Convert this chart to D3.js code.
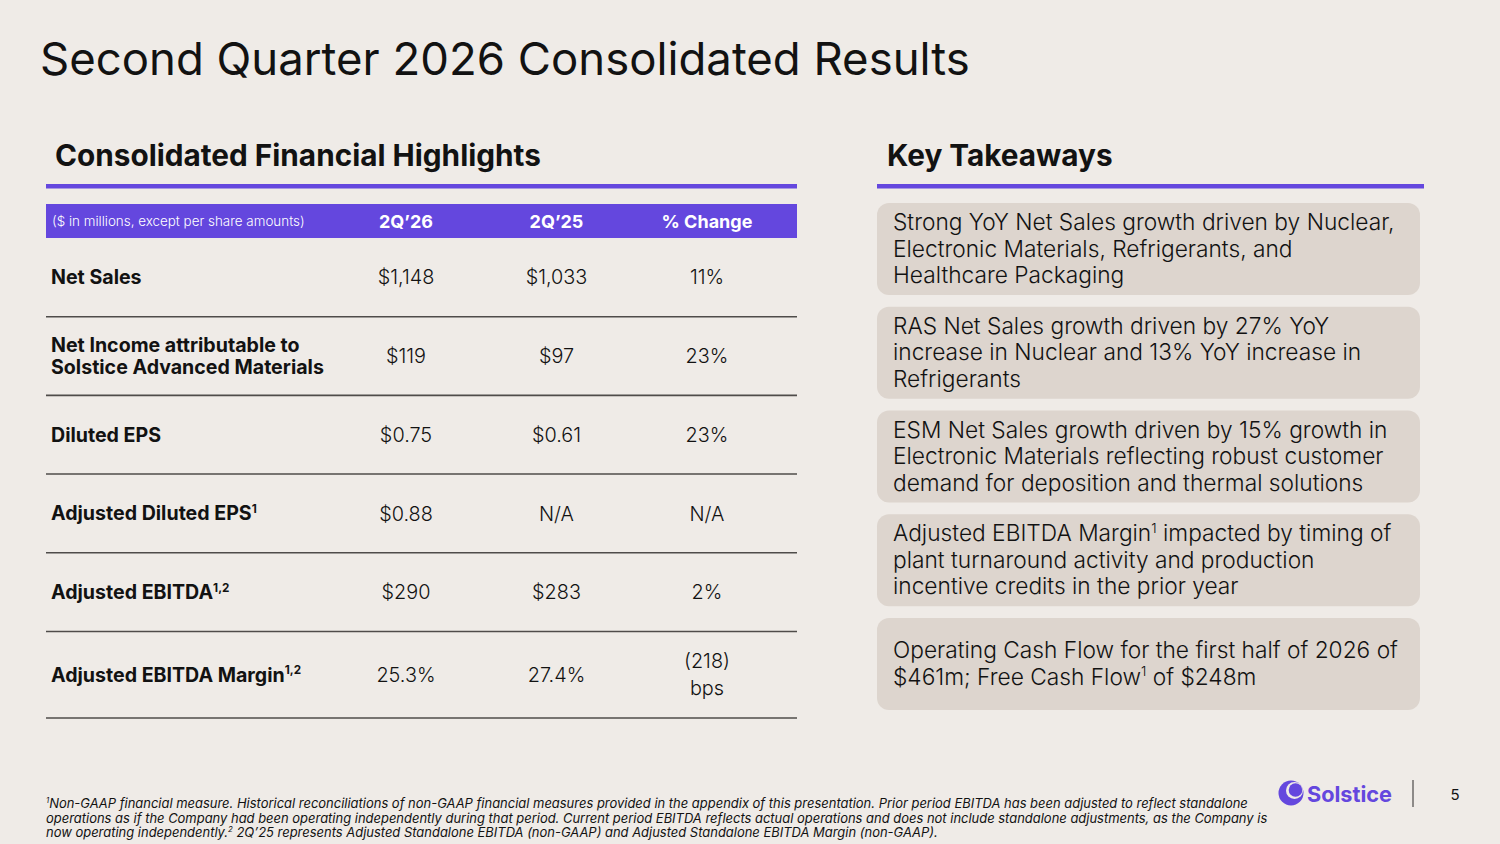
<!DOCTYPE html>
<html lang="en">
<head>
<meta charset="UTF-8">
<title>Second Quarter 2026 Consolidated Results</title>
<script src="https://d3js.org/d3.v7.min.js"></script>
<style>
  body { margin: 0; background: #efebe7; }
  svg { display: block; }
</style>
</head>
<body>
<svg width="1500" height="844"></svg>
<script>
// ---- data ----
const title = "Second Quarter 2026 Consolidated Results";
const leftHeading = "Consolidated Financial Highlights";
const rightHeading = "Key Takeaways";
const unitNote = "($ in millions, except per share amounts)";
const columns = ["2Q’26", "2Q’25", "% Change"];
const rowLabels = [
  ["Net Sales"],
  ["Net Income attributable to", "Solstice Advanced Materials"],
  ["Diluted EPS"],
  ["Adjusted Diluted EPS^1"],
  ["Adjusted EBITDA^1,2"],
  ["Adjusted EBITDA Margin^1,2"]
];
const q2_26 = [["$1,148"], ["$119"], ["$0.75"], ["$0.88"], ["$290"], ["25.3%"]];
const q2_25 = [["$1,033"], ["$97"], ["$0.61"], ["N/A"], ["$283"], ["27.4%"]];
const pctChange = [["11%"], ["23%"], ["23%"], ["N/A"], ["2%"], ["(218)", "bps"]];
const takeaways = [
  ["Strong YoY Net Sales growth driven by Nuclear,", "Electronic Materials, Refrigerants, and", "Healthcare Packaging"],
  ["RAS Net Sales growth driven by 27% YoY", "increase in Nuclear and 13% YoY increase in", "Refrigerants"],
  ["ESM Net Sales growth driven by 15% growth in", "Electronic Materials reflecting robust customer", "demand for deposition and thermal solutions"],
  ["Adjusted EBITDA Margin^1 impacted by timing of", "plant turnaround activity and production", "incentive credits in the prior year"],
  ["Operating Cash Flow for the first half of 2026 of", "$461m; Free Cash Flow^1 of $248m"]
];
const footnotes = [
  "^1Non-GAAP financial measure. Historical reconciliations of non-GAAP financial measures provided in the appendix of this presentation. Prior period EBITDA has been adjusted to reflect standalone",
  "operations as if the Company had been operating independently during that period. Current period EBITDA reflects actual operations and does not include standalone adjustments, as the Company is",
  "now operating independently.^2 2Q’25 represents Adjusted Standalone EBITDA (non-GAAP) and Adjusted Standalone EBITDA Margin (non-GAAP)."
];
const brand = "Solstice";
const pageNumber = "5";

// ---- styling ----
const font = "Inter, 'Noto Sans', sans-serif";
const ink = "#121212";
const purple = "#6447de";
const boxFill = "#ddd5ce";

const svg = d3.select("svg");
svg.append("rect").attr("width", 1500).attr("height", 844).attr("fill", "#efebe7");

// writes text with "^x" superscript markers into a <text>
function richText(sel, str, fs) {
  const parts = str.split(/(\^[\d,]+)/).filter(p => p);
  let shift = 0;
  parts.forEach(p => {
    if (p[0] === "^") {
      sel.append("tspan").text(p.slice(1))
        .attr("font-size", fs * 0.6).attr("dy", -fs * 0.38);
      shift = fs * 0.38;
    } else {
      const t = sel.append("tspan").text(p);
      if (shift) { t.attr("dy", shift); shift = 0; }
    }
  });
  return sel;
}

// font size so that a string measures a given width
function fitSize(str, weight, style, width) {
  const t = svg.append("text").attr("font-family", font).attr("font-weight", weight)
    .attr("font-style", style).attr("font-size", 100).text(str.replace(/\^[\d,]+/g, ""));
  const w = t.node().getComputedTextLength();
  t.remove();
  return 100 * width / w;
}

// ---- title ----
const titleFs = fitSize(title, 400, "normal", 930);
svg.append("text").attr("x", 40).attr("y", 75)
  .attr("font-family", font).attr("font-size", titleFs).attr("fill", ink).text(title);

// ---- section headings ----
const headFs = fitSize(leftHeading, 700, "normal", 486);
[[leftHeading, 55, 46, 797], [rightHeading, 887, 877, 1424]].forEach(([txt, tx, x0, x1]) => {
  svg.append("text").attr("x", tx).attr("y", 166)
    .attr("font-family", font).attr("font-weight", 700).attr("font-size", headFs)
    .attr("fill", ink).text(txt);
  svg.append("rect").attr("x", x0).attr("y", 184).attr("width", x1 - x0).attr("height", 4.5)
    .attr("fill", purple);
});

// ---- table ----
const tableX0 = 46, tableX1 = 797;
const x = d3.scalePoint().domain(columns).range([406, 707]);
// row boundaries: last row a little taller
const rowStarts = [0, 1, 2, 3, 4, 5, 6.1];
const y = d3.scaleLinear().domain([0, 6.1]).range([238, 718]);

svg.append("rect").attr("x", tableX0).attr("y", 204).attr("width", tableX1 - tableX0)
  .attr("height", 34).attr("fill", purple);
svg.append("text").attr("x", 52).attr("y", 225.5)
  .attr("font-family", font).attr("font-size", fitSize(unitNote, 300, "normal", 253))
  .attr("font-weight", 300).attr("fill", "#fff").text(unitNote);
svg.selectAll("text.colhead").data(columns).join("text").attr("class", "colhead")
  .attr("x", d => x(d)).attr("y", 227.5).attr("text-anchor", "middle")
  .attr("font-family", font).attr("font-weight", 700).attr("font-size", 18)
  .attr("fill", "#fff").text(d => d);

const rows = rowLabels.map((lab, i) => ({
  lab, vals: [q2_26[i], q2_25[i], pctChange[i]],
  top: y(rowStarts[i]), bot: y(rowStarts[i + 1])
}));

svg.selectAll("line.sep").data(rows).join("line").attr("class", "sep")
  .attr("x1", tableX0).attr("x2", tableX1)
  .attr("y1", d => d.bot).attr("y2", d => d.bot)
  .attr("stroke", "#4f4c4a").attr("stroke-width", 1.6);

const labFs = fitSize("Solstice Advanced Materials", 700, "normal", 273);
const valFs = fitSize("$1,148", 400, "normal", 58);
const lineGap = 22.5;

rows.forEach(r => {
  const cy = (r.top + r.bot) / 2;
  r.lab.forEach((l, k) => {
    const t = svg.append("text").attr("x", 51)
      .attr("y", cy + (k - (r.lab.length - 1) / 2) * lineGap + labFs * 0.36)
      .attr("font-family", font).attr("font-weight", 700).attr("font-size", labFs)
      .attr("fill", ink);
    richText(t, l, labFs);
  });
  r.vals.forEach((v, c) => {
    v.forEach((s, k) => {
      svg.append("text").attr("x", x(columns[c]))
        .attr("y", cy + (k - (v.length - 1) / 2) * 27 + valFs * 0.36)
        .attr("text-anchor", "middle")
        .attr("font-family", font).attr("font-size", valFs).attr("fill", ink)
        .attr("font-weight", 300).text(s);
    });
  });
});

// ---- key takeaways ----
const by = d3.scaleBand().domain(d3.range(takeaways.length)).range([203, 710]).paddingInner(0.113);
const boxFs = fitSize(takeaways[0][0], 400, "normal", 510);
const box = svg.selectAll("g.box").data(takeaways).join("g").attr("class", "box");
box.append("rect").attr("x", 877).attr("y", (d, i) => by(i))
  .attr("width", 543).attr("height", by.bandwidth()).attr("rx", 12)
  .attr("fill", boxFill);
box.each(function (lines, i) {
  const cy = by(i) + by.bandwidth() / 2;
  lines.forEach((l, k) => {
    const t = d3.select(this).append("text").attr("x", 893)
      .attr("y", cy + (k - (lines.length - 1) / 2) * 26.5 + boxFs * 0.34)
      .attr("font-family", font).attr("font-size", boxFs).attr("fill", ink)
      .attr("font-weight", 300);
    richText(t, l, boxFs);
  });
});

// ---- footnotes ----
const footFs = fitSize(footnotes[1], 400, "italic", 1222);
footnotes.forEach((f, k) => {
  const t = svg.append("text").attr("x", 46).attr("y", 808 + k * 14.5)
    .attr("font-family", font).attr("font-style", "italic").attr("font-size", footFs)
    .attr("fill", ink);
  richText(t, f, footFs);
});

// ---- brand mark & page number ----
const logo = svg.append("g").attr("transform", "translate(1291,793)");
logo.append("circle").attr("r", 12.5).attr("fill", purple);
logo.append("circle").attr("cx", 3.5).attr("cy", -2.5).attr("r", 8.5).attr("fill", "#efebe7");
logo.append("circle").attr("cx", 4.5).attr("cy", -3).attr("r", 6.8).attr("fill", purple);
svg.append("text").attr("x", 1307).attr("y", 801.5)
  .attr("font-family", font).attr("font-weight", 700)
  .attr("font-size", fitSize(brand, 700, "normal", 85)).attr("fill", purple).text(brand);
svg.append("line").attr("x1", 1413).attr("x2", 1413).attr("y1", 780).attr("y2", 807)
  .attr("stroke", "#8d8a88").attr("stroke-width", 2);
svg.append("text").attr("x", 1455).attr("y", 800).attr("text-anchor", "middle")
  .attr("font-family", font).attr("font-size", 15).attr("fill", ink).text(pageNumber);
</script>
</body>
</html>
